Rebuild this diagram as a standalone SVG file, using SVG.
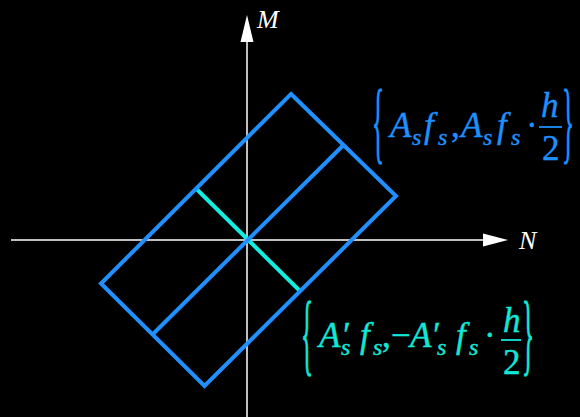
<svg xmlns="http://www.w3.org/2000/svg" width="580" height="417" viewBox="0 0 580 417">
<style>
.ax{stroke:#fff;stroke-width:1.5;fill:none}
.bl{stroke:#1E90FF;stroke-width:4;fill:none;stroke-linejoin:miter}
.cy{stroke:#11EEE0;stroke-width:4;fill:none}
.f{font-family:"Liberation Serif","Times New Roman",serif;font-size:35px}
.i{font-style:italic}
.sub{font-style:italic;font-size:24px}
.tb{fill:#1E90FF}
.tb text{stroke:#1E90FF;stroke-width:0.4}
.tc{fill:#11E8D8}
.tc text{stroke:#11E8D8;stroke-width:0.4}
.lab{font-family:"Liberation Serif","Times New Roman",serif;font-style:italic;font-size:26px;fill:#fff}
</style>
<rect width="580" height="417" fill="#000"/>
<g id="axes">
<line class="ax" x1="11" y1="240" x2="486" y2="240"/>
<polygon points="508,240 483,233.5 483,246.5" fill="#fff"/>
<line class="ax" x1="247" y1="417" x2="247" y2="40"/>
<polygon points="247,15 240.5,42 253.5,42" fill="#fff"/>
<text class="lab" x="257" y="28">M</text>
<text class="lab" x="519" y="249">N</text>
</g>
<g id="section">
<line class="cy" x1="196" y1="188.5" x2="300" y2="291"/>
<line class="bl" x1="343.5" y1="145" x2="152.5" y2="334.5"/>
<polygon class="bl" points="291,94 396,196 204.5,386 101,283.5"/>
</g>
<g id="label-top" class="tb">
<text class="f" x="372" y="152" transform="translate(372,152) scale(0.72,2.6) translate(-372,-152)">{</text>
<text class="f"><tspan class="i" x="390" y="137">A</tspan><tspan class="sub" x="412" y="145">s</tspan><tspan class="i" x="424" y="137">f</tspan><tspan class="sub" x="438" y="145">s</tspan><tspan x="451" y="137">,</tspan><tspan class="i" x="461" y="137">A</tspan><tspan class="sub" x="483" y="145">s</tspan><tspan class="i" x="497" y="137">f</tspan><tspan class="sub" x="511" y="145">s</tspan><tspan x="526" y="137">·</tspan><tspan class="i" x="541" y="117">h</tspan><tspan x="542" y="160">2</tspan></text>
<line x1="539" y1="127" x2="562" y2="127" stroke="#1E90FF" stroke-width="1.8"/>
<text class="f" x="562" y="152" transform="translate(562,152) scale(0.72,2.6) translate(-562,-152)">}</text>
</g>
<g id="label-bottom" class="tc">
<text class="f" x="301" y="364" transform="translate(301,364) scale(0.72,2.6) translate(-301,-364)">{</text>
<text class="f"><tspan class="i" x="319" y="347">A</tspan><tspan class="i" x="341" y="347">′</tspan><tspan class="sub" x="341" y="355">s</tspan><tspan class="i" x="360" y="347">f</tspan><tspan class="sub" x="373" y="355">s</tspan><tspan x="382" y="347">,</tspan><tspan x="391" y="347">−</tspan><tspan class="i" x="410" y="347">A</tspan><tspan class="i" x="431" y="347">′</tspan><tspan class="sub" x="437" y="355">s</tspan><tspan class="i" x="456" y="347">f</tspan><tspan class="sub" x="469" y="355">s</tspan><tspan x="484" y="347">·</tspan><tspan class="i" x="503" y="332">h</tspan><tspan x="503" y="374">2</tspan></text>
<line x1="501" y1="340" x2="521" y2="340" stroke="#11E8D8" stroke-width="1.8"/>
<text class="f" x="522" y="364" transform="translate(522,364) scale(0.72,2.6) translate(-522,-364)">}</text>
</g>
</svg>
